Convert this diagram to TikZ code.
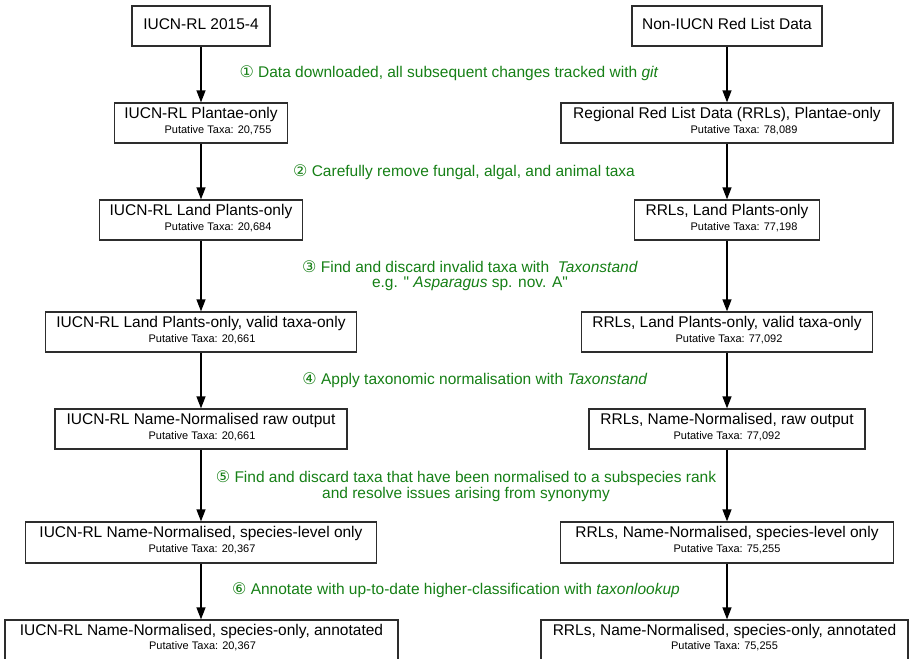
\documentclass[tikz,border=0pt]{standalone}
\usepackage{fontspec}
\setmainfont{Liberation Sans}[Ligatures=TeXOff]
\newfontfamily\symfont{DejaVu Sans}
\usetikzlibrary{arrows.meta,calc}
\definecolor{stepgreen}{RGB}{22,128,22}
\definecolor{boxline}{RGB}{45,45,45}
\newcommand\stepnum[1]{{\symfont\fontsize{16}{14}\selectfont #1}}
\begin{document}
\begin{tikzpicture}[x=1pt,y=-1pt,
  databox/.style={draw=boxline,line width=1.3pt,inner sep=0pt,fill=white,minimum height=40pt},
  titletxt/.style={anchor=base,inner sep=0pt,font=\fontsize{15.5}{17}\selectfont},
  subtxt/.style={anchor=base,inner sep=0pt,font=\fontsize{11}{13}\selectfont},
  steptxt/.style={anchor=base,inner sep=0pt,text=stepgreen,align=center,font=\fontsize{15.5}{15}\selectfont},
  flow/.style={draw=black,line width=1.3pt,-{Triangle[length=12pt,width=9pt]}}]
\clip (0,0) rectangle (911,659);
\fill[white] (0,0) rectangle (911,659);

% ---- left column boxes
\node[databox,minimum width=138pt] (L0) at (201,26) {};
\node[databox,minimum width=173pt] (L1) at (201,123) {};
\node[databox,minimum width=203pt] (L2) at (201,220) {};
\node[databox,minimum width=311pt] (L3) at (201,332) {};
\node[databox,minimum width=292pt] (L4) at (201,429) {};
\node[databox,minimum width=351pt,minimum height=41pt] (L5) at (201,542.5) {};
\node[databox,minimum width=393pt,minimum height=46pt] (L6) at (201.5,643) {};

% ---- right column boxes
\node[databox,minimum width=190pt] (R0) at (727,26) {};
\node[databox,minimum width=332pt] (R1) at (727,123) {};
\node[databox,minimum width=185pt] (R2) at (727,220) {};
\node[databox,minimum width=291pt] (R3) at (727,332) {};
\node[databox,minimum width=276pt] (R4) at (727,429) {};
\node[databox,minimum width=333pt,minimum height=41pt] (R5) at (727,542.5) {};
\node[databox,minimum width=367pt,minimum height=46pt] (R6) at (724.5,643) {};

% ---- left texts
\node[titletxt] (L0t) at ($(L0.north)+(0,24)$) {IUCN-RL 2015-4};
\node[titletxt] (L1t) at ($(L1.north)+(0,16.5)$) {IUCN-RL Plantae-only};
\node[subtxt] (L1s) at ($(L1.north)+(17,31)$) {Putative Taxa: 20,755};
\node[titletxt] (L2t) at ($(L2.north)+(0,16.5)$) {IUCN-RL Land Plants-only};
\node[subtxt] (L2s) at ($(L2.north)+(17,31)$) {Putative Taxa: 20,684};
\node[titletxt] (L3t) at ($(L3.north)+(0,16.5)$) {IUCN-RL Land Plants-only, valid taxa-only};
\node[subtxt] (L3s) at ($(L3.north)+(1,31)$) {Putative Taxa: 20,661};
\node[titletxt] (L4t) at ($(L4.north)+(0,16.5)$) {IUCN-RL Name-Normalised raw output};
\node[subtxt] (L4s) at ($(L4.north)+(1,31)$) {Putative Taxa: 20,661};
\node[titletxt] (L5t) at ($(L5.north)+(0,16.5)$) {IUCN-RL Name-Normalised, species-level only};
\node[subtxt] (L5s) at ($(L5.north)+(1,31)$) {Putative Taxa: 20,367};
\node[titletxt] (L6t) at ($(L6.north)+(0,16.5)$) {IUCN-RL Name-Normalised, species-only, annotated};
\node[subtxt] (L6s) at ($(L6.north)+(1,30)$) {Putative Taxa: 20,367};

% ---- right texts
\node[titletxt] (R0t) at ($(R0.north)+(0,24)$) {Non-IUCN Red List Data};
\node[titletxt] (R1t) at ($(R1.north)+(0,16.5)$) {Regional Red List Data (RRLs), Plantae-only};
\node[subtxt] (R1s) at ($(R1.north)+(17,31)$) {Putative Taxa: 78,089};
\node[titletxt] (R2t) at ($(R2.north)+(0,16.5)$) {RRLs, Land Plants-only};
\node[subtxt] (R2s) at ($(R2.north)+(17,31)$) {Putative Taxa: 77,198};
\node[titletxt] (R3t) at ($(R3.north)+(0,16.5)$) {RRLs, Land Plants-only, valid taxa-only};
\node[subtxt] (R3s) at ($(R3.north)+(2,31)$) {Putative Taxa: 77,092};
\node[titletxt] (R4t) at ($(R4.north)+(0,16.5)$) {RRLs, Name-Normalised, raw output};
\node[subtxt] (R4s) at ($(R4.north)+(0,31)$) {Putative Taxa: 77,092};
\node[titletxt] (R5t) at ($(R5.north)+(0,16.5)$) {RRLs, Name-Normalised, species-level only};
\node[subtxt] (R5s) at ($(R5.north)+(0,31)$) {Putative Taxa: 75,255};
\node[titletxt] (R6t) at ($(R6.north)+(0,16.5)$) {RRLs, Name-Normalised, species-only, annotated};
\node[subtxt] (R6s) at ($(R6.north)+(0,30)$) {Putative Taxa: 75,255};

% ---- connectors
\foreach \a/\b in {L0/L1,L1/L2,L2/L3,L3/L4,L4/L5,R0/R1,R1/R2,R2/R3,R3/R4,R4/R5}
  \draw[flow] (\a.south) -- (\a.south |- \b.north);
\draw[flow] (L5.south) -- (L5.south |- L6.north);
\draw[flow] (R5.south) -- (R5.south |- R6.north);

% ---- step labels (base anchor = baseline of last line)
\node[steptxt] (s1) at (449,77) {\stepnum{①} Data downloaded, all subsequent changes tracked with \textit{git}};
\node[steptxt] (s2) at (464,176) {\stepnum{②} Carefully remove fungal, algal, and animal taxa};
\node[steptxt] (s3) at (470,287) {\stepnum{③} Find and discard invalid taxa with \ \textit{Taxonstand}\\ e.g. " \textit{Asparagus} sp. nov. A"};
\node[steptxt] (s4) at (475,384) {\stepnum{④} Apply taxonomic normalisation with \textit{Taxonstand}};
\node[steptxt] (s5) at (466,498) {\stepnum{⑤} Find and discard taxa that have been normalised to a subspecies rank\\[1pt] and resolve issues arising from synonymy};
\node[steptxt] (s6) at (456,594) {\stepnum{⑥} Annotate with up-to-date higher-classification with \textit{taxonlookup}};
\end{tikzpicture}
\end{document}
